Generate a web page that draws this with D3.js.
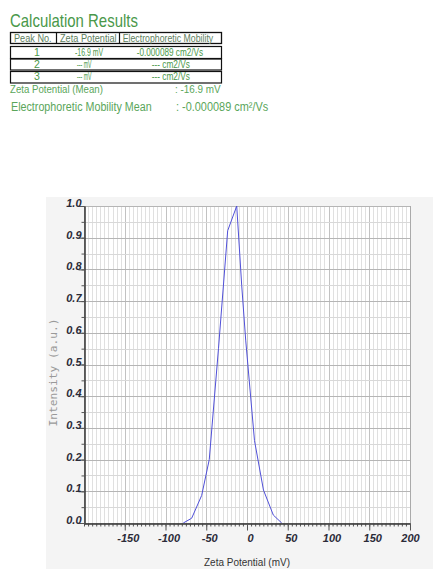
<!DOCTYPE html>
<html>
<head>
<meta charset="utf-8">
<script src="https://cdn.jsdelivr.net/npm/d3@7"></script>
<style>
  html, body { margin: 0; padding: 0; background: #ffffff; }
  svg { display: block; }
</style>
</head>
<body>
<svg id="chart" width="433" height="569"></svg>
<script>
// Zeta potential distribution (one peak)
const zetaMv    = [-78.2, -67.9, -55.6, -46.3, -35.0, -23.7, -12.6, -6.5, -1.6, 9.2, 20.2, 32.3, 42.6];
const intensity = [0.0, 0.015, 0.087, 0.20, 0.55, 0.922, 1.0, 0.75, 0.577, 0.26, 0.104, 0.025, 0.0];

// Axis ticks
const xMajorTicks = [-150, -100, -50, 0, 50, 100, 150, 200];
const yMajorTicks = [0, 0.1, 0.2, 0.3, 0.4, 0.5, 0.6, 0.7, 0.8, 0.9, 1.0];

// Results table
const tableHeader = ["Peak No.", "Zeta Potential", "Electrophoretic Mobility"];
const peakNo      = ["1", "2", "3"];
const peakZeta    = ["-16.9 mV", "--- mV", "--- mV"];
const peakMob     = ["-0.000089 cm2/Vs", "--- cm2/Vs", "--- cm2/Vs"];
const zetaMean    = "-16.9 mV";
const mobMean     = "-0.000089 cm²/Vs";

const narrow = "'Liberation Sans Narrow', 'Arial Narrow', 'Liberation Sans', Arial, sans-serif";
const svg = d3.select("#chart");

// Condensed label: natural text squeezed horizontally to a given width.
function label(sel, x, y, size, color, txt, len) {
  const g = sel.append("g").attr("transform", `translate(${x},${y})`);
  const t = g.append("text").attr("x", 0).attr("y", 0)
    .style("font-family", narrow).style("font-size", size + "px").attr("fill", color)
    .text(txt);
  if (len) {
    const w = t.node().getComputedTextLength();
    if (w > 0) g.attr("transform", `translate(${x},${y}) scale(${len / w},1)`);
  }
  return t;
}

// ---------- results block ----------
const green = "#4a984a";
label(svg, 10, 26.5, 18, green, "Calculation Results", 128);

const tbl = svg.append("g");
const colEdges = [10.5, 56.5, 119.5, 221.5];
tbl.append("rect").attr("x", colEdges[0]).attr("y", 32.5)
  .attr("width", colEdges[3] - colEdges[0]).attr("height", 11)
  .attr("fill", "none").attr("stroke", "#111").attr("stroke-width", 1.3);
tbl.selectAll("line.div").data([colEdges[1], colEdges[2]]).join("line")
  .attr("x1", d => d).attr("x2", d => d).attr("y1", 32.5).attr("y2", 43.5)
  .attr("stroke", "#111").attr("stroke-width", 1.2);
const headSpans = [[14, 51.7], [60, 116.7], [122.7, 213.3]];
tableHeader.forEach((h, i) =>
  label(tbl, headSpans[i][0], 41.6, 10, "#5e805e", h, headSpans[i][1] - headSpans[i][0]));

const rowTops = [46.5, 59, 71.5];
const rowBottoms = [58.5, 70, 83];
const rowBase = [56, 67.5, 79.5];
rowTops.forEach((t, i) => {
  tbl.append("rect").attr("x", colEdges[0]).attr("y", t)
    .attr("width", colEdges[3] - colEdges[0]).attr("height", rowBottoms[i] - t)
    .attr("fill", "none").attr("stroke", "#111").attr("stroke-width", 1.2);
  label(tbl, 36.8, rowBase[i], 10.5, green, peakNo[i]).attr("text-anchor", "middle");
  const zs = i === 0 ? [75, 103.3] : [77, 91.5];
  label(tbl, zs[0], rowBase[i], 10.5, green, peakZeta[i], zs[1] - zs[0]);
  const ms = i === 0 ? [136.7, 203.3] : [151.7, 190];
  label(tbl, ms[0], rowBase[i], 10.5, green, peakMob[i], ms[1] - ms[0]);
});

// mean values
const meanGreen = "#5aa65a";
label(svg, 10, 92.5, 11.5, meanGreen, "Zeta Potential (Mean)", 93);
label(svg, 175, 92.5, 11.5, meanGreen, ":  " + zetaMean, 45.7);

label(svg, 11, 111, 13.5, meanGreen, "Electrophoretic Mobility Mean", 140.7);
label(svg, 176, 111, 13.5, meanGreen, ":  " + mobMean, 92.3);

// ---------- chart panel ----------
svg.append("rect").attr("x", 46).attr("y", 197).attr("width", 433 - 46).attr("height", 569 - 197)
  .attr("fill", "#f4f4f4");

const x = d3.scaleLinear().domain([-200, 200]).range([84, 410]);
const y = d3.scaleLinear().domain([0, 1]).range([523, 206]);

svg.append("rect").attr("x", x(-200)).attr("y", y(1))
  .attr("width", x(200) - x(-200)).attr("height", y(0) - y(1))
  .attr("fill", "#ffffff");

// grid
const grid = svg.append("g").attr("shape-rendering", "crispEdges");
grid.selectAll("line.vx").data(d3.range(-200, 201, 5)).join("line")
  .attr("x1", d => Math.round(x(d)) + 0.5).attr("x2", d => Math.round(x(d)) + 0.5)
  .attr("y1", y(0)).attr("y2", y(1))
  .attr("stroke", d => d % 50 === 0 ? "#c2c2c2" : "#e0e0e0").attr("stroke-width", 1);
grid.selectAll("line.hy").data(d3.range(0, 21).map(i => i * 0.05)).join("line")
  .attr("x1", x(-200)).attr("x2", x(200))
  .attr("y1", d => Math.round(y(d)) + 0.5).attr("y2", d => Math.round(y(d)) + 0.5)
  .attr("stroke", (d, i) => i % 2 === 0 ? "#b5b5b5" : "#d8d8d8").attr("stroke-width", 1);
grid.append("line")
  .attr("x1", Math.round(x(200)) + 0.5).attr("x2", Math.round(x(200)) + 0.5)
  .attr("y1", y(1)).attr("y2", y(0)).attr("stroke", "#aaaaaa");

// distribution line
const line = d3.line().x((d, i) => x(zetaMv[i])).y(d => y(d));
svg.append("path").datum(intensity)
  .attr("d", line).attr("fill", "none")
  .attr("stroke", "#5050d8").attr("stroke-width", 1);

// x axis: minor + major ticks
const tickColor = "#333";
const tickFont = "'Liberation Sans', Arial, sans-serif";
const xMinor = svg.append("g").attr("transform", `translate(0,${Math.round(y(0)) + 0.5})`)
  .call(d3.axisBottom(x).tickValues(d3.range(-200, 201, 5)).tickSize(3).tickSizeOuter(0).tickFormat(""));
const xMajor = svg.append("g").attr("transform", `translate(0,${Math.round(y(0)) + 0.5})`)
  .call(d3.axisBottom(x).tickValues(xMajorTicks).tickSize(7).tickSizeOuter(0).tickFormat(d => String(d)));
[xMinor, xMajor].forEach(g => {
  g.select(".domain").attr("stroke", tickColor);
  g.selectAll(".tick line").attr("stroke", "#555");
});
xMajor.selectAll(".tick text")
  .attr("y", 18).attr("dy", null)
  .attr("dx", d => d === 200 ? 0 : 3)
  .style("font-family", tickFont).style("font-size", "11px")
  .style("font-weight", "bold").style("font-style", "italic")
  .attr("fill", "#2b2b38");

// y axis: minor + major ticks
const yMinor = svg.append("g").attr("transform", `translate(${Math.round(x(-200)) + 0.5},0)`)
  .call(d3.axisLeft(y).tickValues(d3.range(0, 21).map(i => i * 0.05)).tickSize(3).tickSizeOuter(0).tickFormat(""));
const yMajor = svg.append("g").attr("transform", `translate(${Math.round(x(-200)) + 0.5},0)`)
  .call(d3.axisLeft(y).tickValues(yMajorTicks).tickSize(6).tickSizeOuter(0).tickFormat(d3.format(".1f")));
[yMinor, yMajor].forEach(g => {
  g.select(".domain").attr("stroke", tickColor);
  g.selectAll(".tick line").attr("stroke", "#555");
});
yMajor.selectAll(".tick text")
  .attr("x", -3).attr("dy", "0.05em")
  .style("font-family", tickFont).style("font-size", "11px")
  .style("font-weight", "bold").style("font-style", "italic")
  .attr("fill", "#2b2b38");

// axis titles
label(svg, (x(-200) + x(200)) / 2, 566, 11, "#333", "Zeta Potential (mV)", 86)
  .attr("text-anchor", "middle");
svg.append("text")
  .attr("transform", `translate(57,${(y(0) + y(1)) / 2 + 8}) rotate(-90)`)
  .attr("text-anchor", "middle")
  .style("font-family", "'DejaVu Sans Mono', 'Liberation Mono', monospace")
  .style("font-size", "10.5px").attr("fill", "#999")
  .attr("textLength", 108).attr("lengthAdjust", "spacingAndGlyphs")
  .text("Intensity (a.u.)");
</script>
</body>
</html>
